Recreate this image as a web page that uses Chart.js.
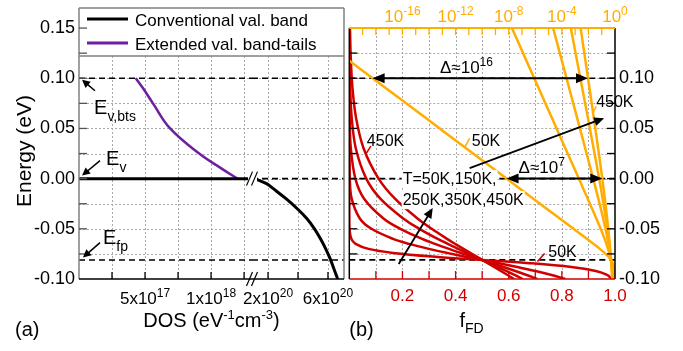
<!DOCTYPE html>
<html>
<head>
<meta charset="utf-8">
<script src="https://cdn.jsdelivr.net/npm/chart.js@4.4.1/dist/chart.umd.min.js"></script>
<style>
  body { margin: 0; background: #fff; }
  #a { position: absolute; left: 0; top: 0; }
  #b { position: absolute; left: 341px; top: 0; }
</style>
</head>
<body>
<canvas id="a" width="360" height="351"></canvas>
<canvas id="b" width="342" height="351"></canvas>
<script>
const FONT = "'Liberation Sans', Arial, sans-serif";
const RED = '#d10000', ORANGE = '#ffad00', PURPLE = '#6c1fa0', GRID = '#a8a8a8';
Chart.defaults.font.family = FONT;
Chart.defaults.color = '#000';

// ---- shared energy axis ----
const energyTicks = [-0.1, -0.075, -0.05, -0.025, 0, 0.025, 0.05, 0.075, 0.1, 0.125, 0.15];
const energyLabelsA = [-0.1, -0.05, 0, 0.05, 0.1, 0.15];
const energyLabelsB = [-0.1, -0.05, 0, 0.05, 0.1];
const eBts = 0.1, eV = 0, eFp = -0.081;

// ---- panel (a): DOS, broken x axis ----
const dosTicksLow = [2.5e17, 5e17, 7.5e17, 1e18, 1.25e18];
const dosTicksHigh = [2e20, 4e20, 6e20];
const dosTickLabels = [[5e17, '5x10', '17', 'x1'], [1e18, '1x10', '18', 'x1'], [2e20, '2x10', '20', 'x2'], [6e20, '6x10', '20', 'x2']];
const dosRangeLow = [0, 1.31e18];
const dosRangeHigh = [0.93e20, 7.07e20];

const tailEnergy = [0.1, 0.09, 0.075, 0.05, 0.025, 0.01, 0];
const tailDos = [4.3e17, 4.85e17, 5.6e17, 6.9e17, 9.1e17, 1.08e18, 1.2e18];
const bandEnergy = [0, -0.005, -0.01, -0.02, -0.03, -0.04, -0.05, -0.06, -0.07, -0.08, -0.09, -0.1];
const bandDos = [1.1e20, 1.9e20, 2.35e20, 3.2e20, 3.95e20, 4.6e20, 5.1e20, 5.5e20, 5.85e20, 6.15e20, 6.4e20, 6.65e20];

// ---- panel (b): Fermi-Dirac occupation ----
const fTicks = [0, 0.1, 0.2, 0.3, 0.4, 0.5, 0.6, 0.7, 0.8, 0.9, 1];
const fLabels = [0.2, 0.4, 0.6, 0.8, 1];
const decades = [1e-20, 1e-19, 1e-18, 1e-17, 1e-16, 1e-15, 1e-14, 1e-13, 1e-12, 1e-11, 1e-10, 1e-9, 1e-8, 1e-7, 1e-6, 1e-5, 1e-4, 1e-3, 1e-2, 1e-1, 1];
const decadeLabels = [[1e-16, '-16'], [1e-12, '-12'], [1e-8, '-8'], [1e-4, '-4'], [1, '0']];

const fdEnergy = [0.15, 0.12, 0.09, 0.06, 0.03, 0.0, -0.02, -0.04, -0.05, -0.06, -0.065, -0.07, -0.074, -0.078, -0.081, -0.084, -0.088, -0.092, -0.096, -0.1];
const fd50  = [5.2e-24, 5.5e-21, 5.8e-18, 6.2e-15, 6.5e-12, 6.9e-9, 7.1e-7, 7.4e-5, 7.5e-4, 0.0076, 0.0238, 0.0722, 0.1647, 0.3327, 0.5, 0.6673, 0.8353, 0.9278, 0.9701, 0.988];
const fd150 = [1.73e-8, 1.77e-7, 1.80e-6, 1.83e-5, 1.86e-4, 1.90e-3, 0.00884, 0.0402, 0.0833, 0.1645, 0.2248, 0.2992, 0.3678, 0.4422, 0.5, 0.5578, 0.6322, 0.7008, 0.7613, 0.8131];
const fd250 = [2.21e-5, 8.85e-5, 3.57e-4, 1.44e-3, 0.00575, 0.0228, 0.0556, 0.1298, 0.1917, 0.2739, 0.3224, 0.3751, 0.4195, 0.4652, 0.5, 0.5348, 0.5805, 0.6249, 0.6674, 0.7072];
const fd350 = [4.71e-4, 1.27e-3, 3.44e-3, 9.24e-3, 0.0246, 0.0638, 0.1168, 0.2042, 0.2635, 0.3326, 0.3704, 0.4098, 0.4422, 0.4751, 0.5, 0.5249, 0.5578, 0.5902, 0.6218, 0.6525];
const fd450 = [2.58e-3, 5.57e-3, 0.0120, 0.0257, 0.0540, 0.1102, 0.1718, 0.2579, 0.3101, 0.3678, 0.3982, 0.4296, 0.4550, 0.4807, 0.5, 0.5193, 0.5450, 0.5704, 0.5955, 0.6201];
const fdCurves = [fd50, fd150, fd250, fd350, fd450];
const fdTemps = ['50K', '150K', '250K', '350K', '450K'];

// annotations (data coordinates)
const deltaArrows = [[0.1, 5.7e-19, 9.3e-3], [0, 6.9e-9, 0.11]];            // energy, from f, to f (log axis)
const deltaTexts = [['16', 0.441, 0.105], ['7', 0.724, 0.0055]];
const arrowsB = [[0.453, 0.0104, 0.959, 0.0602], [0.186, -0.0851, 0.314, -0.0294]];
const notesB = [
  ['50K', 0.461, 0.032, [0.434, 0.031, 0.453, 0.040], ORANGE],
  ['450K', 0.929, 0.071, [0.915, 0.065, 0.930, 0.072], ORANGE],
  ['450K', 0.066, 0.032, [0.062, 0.0244, 0.081, 0.0324], RED],
  ['50K', 0.749, -0.078, [0.708, -0.0826, 0.735, -0.0746], RED]
];
const tempLines = [['T=50K,150K,', 0.201, -0.0055], ['250K,350K,450K', 0.201, -0.0264]];
const arrowsA = [[1.21e17, 0.0876, 0.23e17, 0.0986], [1.59e17, 0.0179, 0.23e17, 0.003], [1.59e17, -0.0637, 0.3e17, -0.0787]];
const notesA = [['v,bts', 1.14e17, 0.0647], ['v', 2.05e17, 0.0139], ['fp', 1.82e17, -0.0647]];

const pts = (xs, ys) => xs.map((x, i) => ({ x: x, y: ys[i] }));
const flat = (xs, y) => xs.map(x => ({ x: x, y: y }));

function seg(ctx, x1, y1, x2, y2, color, w, dash) {
  ctx.save();
  ctx.strokeStyle = color; ctx.lineWidth = w; ctx.setLineDash(dash || []);
  ctx.beginPath(); ctx.moveTo(x1, y1); ctx.lineTo(x2, y2); ctx.stroke();
  ctx.restore();
}

// dotted grid from a scale's ticks, skipping the frame edges
function drawGridFor(ctx, scale, ca) {
  scale.ticks.forEach(t => {
    const p = Math.round(scale.getPixelForValue(t.value)) + 0.5;
    if (scale.isHorizontal()) {
      if (p > ca.left + 2 && p < ca.right - 2) seg(ctx, p, ca.top, p, ca.bottom, GRID, 1, [2, 2]);
    } else if (p > ca.top + 2 && p < ca.bottom - 2) {
      seg(ctx, ca.left, p, ca.right, p, GRID, 1, [2, 2]);
    }
  });
}

// grid first, then the datasets on top of it
function gridThenData(chart, ids) {
  ids.forEach(id => drawGridFor(chart.ctx, chart.scales[id], chart.chartArea));
  const metas = chart.getSortedVisibleDatasetMetas();
  for (let i = metas.length - 1; i >= 0; --i) chart._drawDataset(metas[i]);
}

// text made of pieces: [text, size, dy]
function rich(ctx, parts, x, y, align, color) {
  let w = 0;
  for (const p of parts) { ctx.font = p[1] + 'px ' + FONT; w += ctx.measureText(p[0]).width; }
  let cx = align === 'center' ? x - w / 2 : (align === 'right' ? x - w : x);
  ctx.save();
  ctx.fillStyle = color || '#000'; ctx.textAlign = 'left'; ctx.textBaseline = 'alphabetic';
  for (const p of parts) {
    ctx.font = p[1] + 'px ' + FONT;
    ctx.fillText(p[0], cx, y + (p[2] || 0));
    cx += ctx.measureText(p[0]).width;
  }
  ctx.restore();
  return w;
}

function arrow(ctx, x1, y1, x2, y2, both, len, half, w) {
  const a = Math.atan2(y2 - y1, x2 - x1), c = Math.cos(a), s = Math.sin(a);
  ctx.save();
  ctx.strokeStyle = '#000'; ctx.fillStyle = '#000'; ctx.lineWidth = w;
  ctx.beginPath();
  ctx.moveTo(both ? x1 + c * len * 0.8 : x1, both ? y1 + s * len * 0.8 : y1);
  ctx.lineTo(x2 - c * len * 0.8, y2 - s * len * 0.8);
  ctx.stroke();
  const head = (tx, ty, dc, ds) => {
    ctx.beginPath();
    ctx.moveTo(tx, ty);
    ctx.lineTo(tx - dc * len - ds * half, ty - ds * len + dc * half);
    ctx.lineTo(tx - dc * len + ds * half, ty - ds * len - dc * half);
    ctx.closePath(); ctx.fill();
  };
  head(x2, y2, c, s);
  if (both) head(x1, y1, -c, -s);
  ctx.restore();
}

function dashed(data, axis) {
  return { data: data, xAxisID: axis, borderColor: '#000', borderWidth: 1.6, borderDash: [6, 4], order: 3 };
}
const noPad = s => { s.paddingTop = 0; s.paddingBottom = 0; s.paddingLeft = 0; s.paddingRight = 0; };
const gridOff = { display: false, drawTicks: false };
const borderOff = { display: false };

// ---------------- panel (a) ----------------
const drawA = {
  id: 'drawA',
  beforeDatasetsDraw() { return false; },   // datasets are drawn in afterDraw, above the grid
  afterDraw(chart) {
    const ctx = chart.ctx, ca = chart.chartArea;
    const y = chart.scales.y, x1 = chart.scales.x1, x2 = chart.scales.x2;
    const Y = e => y.getPixelForValue(e);
    gridThenData(chart, ['y', 'x1', 'x2']);
    // legend box inside the plot
    ctx.fillStyle = '#fff';
    ctx.fillRect(ca.left, ca.top, ca.right - ca.left, 48);
    seg(ctx, ca.left, ca.top + 48, ca.right, ca.top + 48, '#808080', 1.5);
    [chart.data.datasets[0], chart.data.datasets[2]].forEach((d, i) => {
      const cy = ca.top + 11 + i * 24;
      seg(ctx, ca.left + 8, cy, ca.left + 49, cy, d.borderColor, 3);
      rich(ctx, [[d.label, 17]], ca.left + 56, cy + 7, 'left', '#000');
    });
    // frame
    seg(ctx, ca.left, ca.top, ca.right, ca.top, '#808080', 1.5);
    seg(ctx, ca.left, ca.top, ca.left, ca.bottom, '#808080', 1.5);
    seg(ctx, ca.right, ca.top, ca.right, ca.bottom, '#808080', 1.5);
    seg(ctx, ca.left, ca.bottom, ca.right, ca.bottom, '#000', 1.5);
    // inward ticks
    energyTicks.forEach(e => { if (e > -0.1) seg(ctx, ca.left, Y(e), ca.left + 8, Y(e), '#555', 1.3); });
    dosTicksLow.forEach(v => seg(ctx, x1.getPixelForValue(v), ca.bottom, x1.getPixelForValue(v), ca.bottom - 7, '#000', 1.3));
    dosTicksHigh.forEach(v => seg(ctx, x2.getPixelForValue(v), ca.bottom, x2.getPixelForValue(v), ca.bottom - 7, '#000', 1.3));
    // axis break marks
    const bx = x1.right;
    [Y(0), ca.bottom].forEach((by, i) => {
      if (i === 0) { ctx.fillStyle = '#fff'; ctx.fillRect(bx - 4, by - 5, 9, 10); }
      [-2.5, 2.5].forEach(dx => seg(ctx, bx + dx - 3, by + 7, bx + dx + 3, by - 7, '#000', 1.2));
    });
    // tick labels with exponents
    dosTickLabels.forEach(d => rich(ctx, [[d[1], 17], [d[2], 12, -7]], chart.scales[d[3]].getPixelForValue(d[0]), 304, 'center'));
    // E labels and arrows
    arrowsA.forEach(a => arrow(ctx, x1.getPixelForValue(a[0]), Y(a[1]), x1.getPixelForValue(a[2]), Y(a[3]), false, 8, 4, 1.5));
    notesA.forEach(n => rich(ctx, [['E', 20], [n[0], 14, 7]], x1.getPixelForValue(n[1]), Y(n[2]), 'left'));
    // titles
    rich(ctx, [['DOS (eV', 20], ['-1', 13, -8], ['cm', 20], ['-3', 13, -8], [')', 20]], (ca.left + ca.right) / 2, 327, 'center');
    rich(ctx, [['(a)', 20]], 15, 336, 'left');
    ctx.save();
    ctx.translate(25, 151); ctx.rotate(-Math.PI / 2);
    ctx.font = '21px ' + FONT; ctx.fillStyle = '#000'; ctx.textAlign = 'center'; ctx.textBaseline = 'middle';
    ctx.fillText('Energy (eV)', 0, 0);
    ctx.restore();
  }
};

new Chart(document.getElementById('a'), {
  type: 'line',
  data: {
    datasets: [
      { label: 'Conventional val. band', data: flat(dosRangeLow, eV), xAxisID: 'x1', borderColor: '#000', borderWidth: 3, order: 1 },
      { label: 'Conventional val. band', data: pts(bandDos, bandEnergy), xAxisID: 'x2', borderColor: '#000', borderWidth: 3, tension: 0.4, order: 1 },
      { label: 'Extended val. band-tails', data: pts(tailDos, tailEnergy), xAxisID: 'x1', borderColor: PURPLE, borderWidth: 2.5, tension: 0.4, order: 1 },
      dashed(flat(dosRangeLow, eBts), 'x1'), dashed(flat(dosRangeHigh, eBts), 'x2'),
      dashed(flat(dosRangeHigh, eV), 'x2'),
      dashed(flat(dosRangeLow, eFp), 'x1'), dashed(flat(dosRangeHigh, eFp), 'x2')
    ]
  },
  options: {
    responsive: false, animation: false, devicePixelRatio: 1, events: [],
    layout: { padding: { left: 0, right: 16, top: 8, bottom: 0 } },
    elements: { point: { radius: 0 }, line: { fill: false } },
    plugins: { legend: { display: false }, tooltip: { enabled: false } },
    scales: {
      y: {
        type: 'linear', position: 'left', min: -0.1, max: 0.17,
        afterBuildTicks: s => { s.ticks = energyTicks.map(v => ({ value: v })); },
        ticks: { font: { size: 18 }, padding: 4, autoSkip: false, callback: v => energyLabelsA.indexOf(v) >= 0 ? v.toFixed(2) : '' },
        grid: gridOff, border: borderOff,
        afterFit: s => { s.width = 79; noPad(s); }
      },
      x1: {
        type: 'linear', position: 'bottom', stack: 'dos', stackWeight: 173, min: dosRangeLow[0], max: dosRangeLow[1],
        afterBuildTicks: s => { s.ticks = dosTicksLow.map(v => ({ value: v })); },
        ticks: { display: false }, grid: gridOff, border: borderOff,
        afterFit: s => { s.height = 72; noPad(s); }
      },
      x2: {
        type: 'linear', position: 'bottom', stack: 'dos', stackWeight: 92, min: dosRangeHigh[0], max: dosRangeHigh[1],
        afterBuildTicks: s => { s.ticks = dosTicksHigh.map(v => ({ value: v })); },
        ticks: { display: false }, grid: gridOff, border: borderOff,
        afterFit: s => { s.height = 72; noPad(s); }
      }
    }
  },
  plugins: [drawA]
});

// ---------------- panel (b) ----------------
const drawB = {
  id: 'drawB',
  beforeDatasetsDraw() { return false; },
  afterDraw(chart) {
    const ctx = chart.ctx, ca = chart.chartArea;
    const xr = chart.scales.xr, xt = chart.scales.xt, y = chart.scales.y;
    const X = f => xr.getPixelForValue(f), Y = e => y.getPixelForValue(e);
    gridThenData(chart, ['y', 'xr']);
    // frame
    seg(ctx, ca.left, ca.top, ca.left, ca.bottom, '#000', 1.5);
    seg(ctx, ca.right, ca.top, ca.right, ca.bottom, '#000', 1.5);
    seg(ctx, ca.left, ca.bottom, ca.right, ca.bottom, RED, 1.5);
    seg(ctx, ca.left, ca.top, ca.right, ca.top, ORANGE, 2);
    // inward ticks
    energyTicks.forEach(e => {
      if (e > -0.1 && e < 0.15) {
        seg(ctx, ca.left, Y(e), ca.left + 8, Y(e), '#000', 1.3);
        seg(ctx, ca.right - 8, Y(e), ca.right, Y(e), '#000', 1.3);
      }
    });
    fTicks.forEach(f => { if (f > 0 && f < 1) seg(ctx, X(f), ca.bottom, X(f), ca.bottom - 8, RED, 1.3); });
    decades.forEach(v => {
      const px = xt.getPixelForValue(v);
      if (px > ca.left + 1 && px < ca.right - 1) seg(ctx, px, ca.top, px, ca.top + 7, ORANGE, 1.3);
    });
    decadeLabels.forEach(d => rich(ctx, [['10', 17], [d[1], 12, -7]], xt.getPixelForValue(d[0]), 22, 'center', ORANGE));
    // temperature list with white backing
    tempLines.forEach(t => {
      ctx.font = '16px ' + FONT;
      const w = ctx.measureText(t[0]).width;
      ctx.fillStyle = '#fff';
      ctx.fillRect(X(t[1]) - 1, Y(t[2]) - 14, w + 2, 18);
      rich(ctx, [[t[0], 16]], X(t[1]), Y(t[2]), 'left');
    });
    // delta arrows
    deltaArrows.forEach(d => arrow(ctx, xt.getPixelForValue(d[1]), Y(d[0]), xt.getPixelForValue(d[2]), Y(d[0]), true, 12, 5, 2));
    deltaTexts.forEach(d => rich(ctx, [['\u0394\u224810', 17], [d[0], 12, -7]], X(d[1]), Y(d[2]), 'center'));
    arrowsB.forEach(a => arrow(ctx, X(a[0]), Y(a[1]), X(a[2]), Y(a[3]), false, 10, 4.5, 1.8));
    notesB.forEach(n => {
      const l = n[3];
      seg(ctx, X(l[0]), Y(l[1]), X(l[2]), Y(l[3]), n[4], 1.5);
      rich(ctx, [[n[0], 16]], X(n[1]), Y(n[2]), 'left');
    });
    // titles
    rich(ctx, [['f', 20], ['FD', 14, 6]], X(0.46), 327, 'center');
    rich(ctx, [['(b)', 20]], ca.left, 336, 'left');
  }
};

const fdSets = [];
fdCurves.forEach((f, i) => fdSets.push({ label: fdTemps[i], data: pts(f, fdEnergy), xAxisID: 'xr', borderColor: RED, borderWidth: 2.5, tension: 0.35, order: 2 }));
fdCurves.forEach((f, i) => fdSets.push({ label: fdTemps[i] + ' (log)', data: pts(f, fdEnergy), xAxisID: 'xt', borderColor: ORANGE, borderWidth: 2.5, tension: 0.3, order: 1 }));
[eBts, eV, eFp].forEach(e => fdSets.push(dashed(flat([0, 1], e), 'xr')));

new Chart(document.getElementById('b'), {
  type: 'line',
  data: { datasets: fdSets },
  options: {
    responsive: false, animation: false, devicePixelRatio: 1, events: [],
    layout: { padding: { left: 8.3, right: 0, top: 0, bottom: 0 } },
    elements: { point: { radius: 0 }, line: { fill: false } },
    plugins: { legend: { display: false }, tooltip: { enabled: false } },
    scales: {
      xr: {
        type: 'linear', position: 'bottom', min: 0, max: 1,
        afterBuildTicks: s => { s.ticks = fTicks.map(v => ({ value: v })); },
        ticks: { color: RED, font: { size: 17 }, padding: 7, autoSkip: false, maxRotation: 0, callback: v => fLabels.indexOf(v) >= 0 ? v.toFixed(1) : '' },
        grid: gridOff, border: borderOff,
        afterFit: s => { s.height = 72; noPad(s); }
      },
      xt: {
        type: 'logarithmic', position: 'top', min: 1e-20, max: 1,
        afterBuildTicks: s => { s.ticks = decades.map(v => ({ value: v })); },
        ticks: { display: false }, grid: gridOff, border: borderOff,
        afterFit: s => { s.height = 28; noPad(s); }
      },
      y: {
        type: 'linear', position: 'right', min: -0.1, max: 0.15,
        afterBuildTicks: s => { s.ticks = energyTicks.map(v => ({ value: v })); },
        ticks: { font: { size: 18 }, padding: 4, autoSkip: false, callback: v => energyLabelsB.indexOf(v) >= 0 ? v.toFixed(2) : '' },
        grid: gridOff, border: borderOff,
        afterFit: s => { s.width = 68; noPad(s); }
      }
    }
  },
  plugins: [drawB]
});
</script>
</body>
</html>
